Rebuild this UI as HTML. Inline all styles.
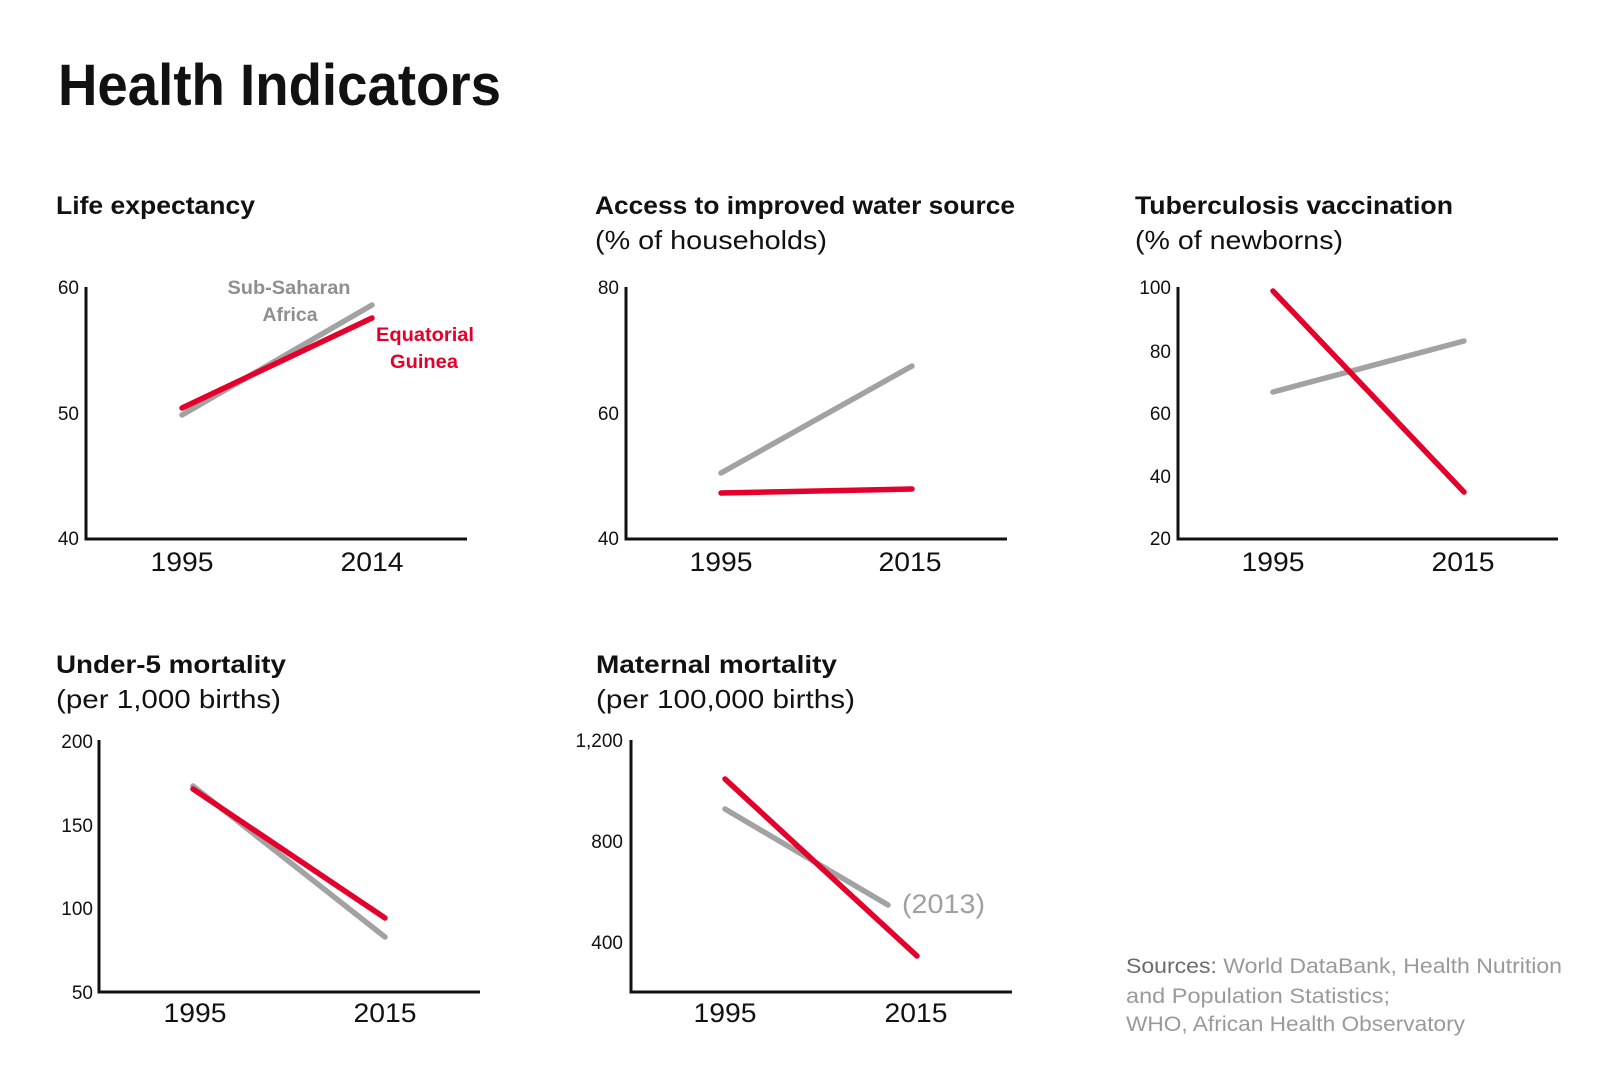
<!DOCTYPE html>
<html>
<head>
<meta charset="utf-8">
<style>
  html,body{margin:0;padding:0;background:#fff;}
  svg{display:block;}
  text{font-family:"Liberation Sans", "DejaVu Sans", sans-serif;}
  .t{font-weight:bold;font-size:25px;fill:#111;}
  .s{font-size:26px;fill:#111;}
  .k{font-size:19px;fill:#111;text-anchor:end;}
  .y{font-size:27px;fill:#111;text-anchor:middle;}
  .ax{fill:none;stroke:#111;stroke-width:3;}
  .g{stroke:#a2a2a2;stroke-width:5.5;stroke-linecap:round;}
  .r{stroke:#e4002b;stroke-width:5.5;stroke-linecap:round;}
</style>
</head>
<body>
<svg width="1619" height="1080" viewBox="0 0 1619 1080" xmlns="http://www.w3.org/2000/svg">
  <rect width="1619" height="1080" fill="#fff"/>
  <text x="58" y="105" font-weight="bold" font-size="58" fill="#111" textLength="443" lengthAdjust="spacingAndGlyphs">Health Indicators</text>

  <!-- Chart 1: Life expectancy -->
  <text class="t" x="56" y="214" textLength="199" lengthAdjust="spacingAndGlyphs">Life expectancy</text>
  <path class="ax" d="M86,287 V539 H467"/>
  <text class="k" x="79" y="294">60</text>
  <text class="k" x="79" y="420">50</text>
  <text class="k" x="79" y="545">40</text>
  <line class="g" x1="182" y1="415" x2="372" y2="305"/>
  <line class="r" x1="182" y1="408" x2="372" y2="318"/>
  <text x="289" y="294" font-weight="bold" font-size="19" fill="#8f8f8f" text-anchor="middle" textLength="123" lengthAdjust="spacingAndGlyphs">Sub-Saharan</text>
  <text x="290" y="321" font-weight="bold" font-size="19" fill="#8f8f8f" text-anchor="middle" textLength="55" lengthAdjust="spacingAndGlyphs">Africa</text>
  <text x="425" y="341" font-weight="bold" font-size="19" fill="#e4002b" text-anchor="middle" textLength="98" lengthAdjust="spacingAndGlyphs">Equatorial</text>
  <text x="424" y="368" font-weight="bold" font-size="19" fill="#e4002b" text-anchor="middle" textLength="68" lengthAdjust="spacingAndGlyphs">Guinea</text>
  <text class="y" x="182" y="571" textLength="63" lengthAdjust="spacingAndGlyphs">1995</text>
  <text class="y" x="372" y="571" textLength="63" lengthAdjust="spacingAndGlyphs">2014</text>

  <!-- Chart 2: Water -->
  <text class="t" x="595" y="214" textLength="420" lengthAdjust="spacingAndGlyphs">Access to improved water source</text>
  <text class="s" x="595" y="249" textLength="232" lengthAdjust="spacingAndGlyphs">(% of households)</text>
  <path class="ax" d="M626,287 V539 H1007"/>
  <text class="k" x="619" y="294">80</text>
  <text class="k" x="619" y="420">60</text>
  <text class="k" x="619" y="545">40</text>
  <line class="g" x1="721" y1="473" x2="912" y2="366"/>
  <line class="r" x1="721" y1="493" x2="912" y2="489"/>
  <text class="y" x="721" y="571" textLength="63" lengthAdjust="spacingAndGlyphs">1995</text>
  <text class="y" x="910" y="571" textLength="63" lengthAdjust="spacingAndGlyphs">2015</text>

  <!-- Chart 3: TB -->
  <text class="t" x="1135" y="214" textLength="318" lengthAdjust="spacingAndGlyphs">Tuberculosis vaccination</text>
  <text class="s" x="1135" y="249" textLength="208" lengthAdjust="spacingAndGlyphs">(% of newborns)</text>
  <path class="ax" d="M1178,287 V539 H1558"/>
  <text class="k" x="1171" y="294">100</text>
  <text class="k" x="1171" y="358">80</text>
  <text class="k" x="1171" y="420">60</text>
  <text class="k" x="1171" y="483">40</text>
  <text class="k" x="1171" y="545">20</text>
  <line class="g" x1="1273" y1="392" x2="1464" y2="341"/>
  <line class="r" x1="1273" y1="291" x2="1464" y2="492"/>
  <text class="y" x="1273" y="571" textLength="63" lengthAdjust="spacingAndGlyphs">1995</text>
  <text class="y" x="1463" y="571" textLength="63" lengthAdjust="spacingAndGlyphs">2015</text>

  <!-- Chart 4: Under-5 -->
  <text class="t" x="56" y="673" textLength="230" lengthAdjust="spacingAndGlyphs">Under-5 mortality</text>
  <text class="s" x="56" y="708" textLength="225" lengthAdjust="spacingAndGlyphs">(per 1,000 births)</text>
  <path class="ax" d="M99,740 V992 H480"/>
  <text class="k" x="93" y="748">200</text>
  <text class="k" x="93" y="832">150</text>
  <text class="k" x="93" y="915">100</text>
  <text class="k" x="93" y="999">50</text>
  <line class="g" x1="193" y1="786" x2="385" y2="937"/>
  <line class="r" x1="193" y1="789" x2="385" y2="918"/>
  <text class="y" x="195" y="1022" textLength="63" lengthAdjust="spacingAndGlyphs">1995</text>
  <text class="y" x="385" y="1022" textLength="63" lengthAdjust="spacingAndGlyphs">2015</text>

  <!-- Chart 5: Maternal -->
  <text class="t" x="596" y="673" textLength="241" lengthAdjust="spacingAndGlyphs">Maternal mortality</text>
  <text class="s" x="596" y="708" textLength="259" lengthAdjust="spacingAndGlyphs">(per 100,000 births)</text>
  <path class="ax" d="M631,740 V992 H1012"/>
  <text class="k" x="623" y="747">1,200</text>
  <text class="k" x="623" y="848">800</text>
  <text class="k" x="623" y="949">400</text>
  <line class="g" x1="725" y1="809" x2="888" y2="905"/>
  <line class="r" x1="725" y1="779" x2="917" y2="956"/>
  <text x="902" y="913" font-size="27" fill="#a0a0a0" textLength="83" lengthAdjust="spacingAndGlyphs">(2013)</text>
  <text class="y" x="725" y="1022" textLength="63" lengthAdjust="spacingAndGlyphs">1995</text>
  <text class="y" x="916" y="1022" textLength="63" lengthAdjust="spacingAndGlyphs">2015</text>

  <!-- Sources -->
  <text x="1126" y="973" font-size="21" fill="#9a9a9a" textLength="436" lengthAdjust="spacingAndGlyphs"><tspan fill="#6b6b6b">Sources:</tspan> World DataBank, Health Nutrition</text>
  <text x="1126" y="1003" font-size="21" fill="#9a9a9a" textLength="264" lengthAdjust="spacingAndGlyphs">and Population Statistics;</text>
  <text x="1126" y="1031" font-size="21" fill="#9a9a9a" textLength="339" lengthAdjust="spacingAndGlyphs">WHO, African Health Observatory</text>
</svg>
</body>
</html>
